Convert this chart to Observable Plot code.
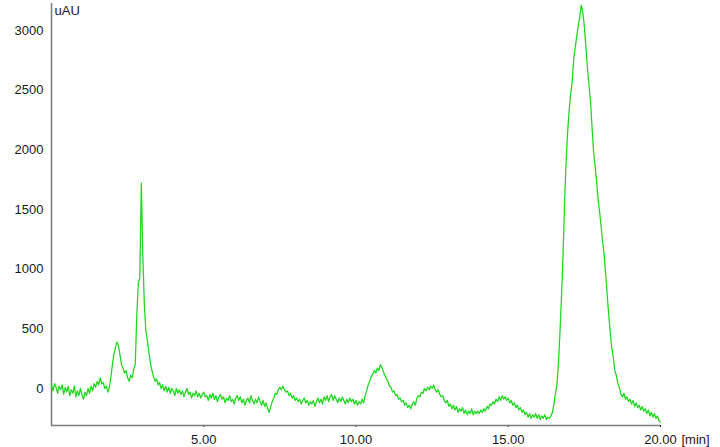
<!DOCTYPE html>
<html><head><meta charset="utf-8">
<script src="https://cdn.jsdelivr.net/npm/d3@7"></script>
<script src="https://cdn.jsdelivr.net/npm/@observablehq/plot@0.6"></script>
<style>html,body{margin:0;padding:0;background:#fff}</style>
</head><body><div id="chart"></div>
<script>
// Detector signal (uAU), one row per minute, sampled every 0.05 min
const startTime = 0;
const sampleStep = 0.05;
const signal = [
  30,-20,40,10,-40,20,-10,30,-50,10,-30,20,-60,-10,-40,20,-70,-20,-60,0,
  -50,-90,-30,-60,0,-40,20,-20,40,10,60,30,90,40,50,0,20,-30,10,90,
  200,290,340,390,360,280,200,170,130,150,90,60,110,90,160,200,600,880,930,1720,
  1100,700,480,400,300,210,150,100,60,80,30,50,0,30,-20,20,-30,10,-40,0,
  -20,-60,0,-40,-10,-50,-20,-70,-30,0,-50,-30,-80,-40,-60,-20,-70,-40,-80,-50,
  -30,-70,-60,-100,-50,-80,-40,-90,-60,-110,-70,-50,-90,-70,-120,-80,-100,-60,-110,-90,
  -130,-80,-60,-100,-70,-120,-90,-140,-100,-80,-120,-60,-100,-130,-90,-120,-70,-110,-140,-100,
  -150,-120,-170,-200,-150,-110,-80,-40,-50,-10,10,-10,20,-10,-30,-20,-60,-40,-80,-60,
  -100,-80,-110,-90,-130,-100,-80,-120,-100,-140,-110,-130,-100,-150,-110,-80,-120,-90,-130,-70,
  -100,-60,-110,-70,-50,-100,-60,-90,-120,-80,-110,-70,-100,-130,-90,-120,-80,-110,-90,-130,
  -100,-140,-110,-130,-90,-120,-60,-20,30,60,100,120,150,130,170,150,200,180,140,110,
  80,60,20,10,-30,-20,-60,-50,-90,-80,-110,-100,-140,-120,-160,-140,-170,-130,-110,-140,
  -80,-60,-70,-30,-40,0,-20,10,-10,20,0,30,-10,-30,-10,-50,-70,-60,-100,-120,
  -100,-150,-130,-170,-140,-180,-150,-200,-170,-190,-160,-210,-180,-220,-190,-210,-170,-220,-190,-210,
  -190,-210,-180,-200,-170,-190,-150,-170,-130,-140,-110,-130,-90,-110,-70,-100,-60,-90,-70,-100,
  -80,-120,-100,-140,-120,-160,-140,-180,-160,-200,-180,-220,-200,-240,-210,-250,-220,-240,-210,-250,
  -220,-260,-230,-250,-220,-260,-240,-250,-230,-200,-130,-40,30,220,480,780,1120,1560,1900,2150,
  2330,2470,2570,2760,2860,2950,3040,3120,3210,3150,3030,2860,2690,2550,2410,2200,1990,1870,1740,1590,
  1480,1360,1230,1120,960,780,620,470,340,260,150,110,40,10,-50,-70,-40,-90,-70,-110,
  -90,-130,-100,-150,-120,-160,-140,-180,-150,-190,-170,-210,-180,-230,-200,-240,-210,-250,-230,-270,
  -280
];
const xTicks = [5, 10, 15, 20];
const yTicks = [0, 500, 1000, 1500, 2000, 2500, 3000];
const xUnit = "[min]";
const yUnit = "uAU";

const data = signal.map((v, i) => ({t: startTime + i * sampleStep, v}));

const chart = Plot.plot({
  width: 720,
  height: 447,
  marginLeft: 51,
  marginRight: 60,
  marginTop: 3,
  marginBottom: 22,
  style: {fontFamily: "'Liberation Sans', Arial, sans-serif", fontSize: "13px", background: "#fff", color: "#1a1a1a"},
  x: {domain: [0, 20]},
  y: {domain: [-310, 3226]},
  marks: [
    Plot.axisY({ticks: yTicks, tickSize: 0, tickPadding: 8, tickFormat: d => String(d), label: null, fontSize: 13}),
    Plot.axisX({ticks: xTicks, tickSize: 2, tickPadding: 7, tickFormat: d => d.toFixed(2), label: null, fontSize: 13}),
    Plot.ruleX([0], {stroke: "#7a7a7a", strokeWidth: 1.5}),
    Plot.ruleY([-310], {stroke: "#7a7a7a", strokeWidth: 1.5}),
    Plot.line(data, {x: "t", y: "v", stroke: "#22d822", strokeWidth: 1.3}),
    Plot.text([yUnit], {text: d => d, frameAnchor: "top-left", textAnchor: "start", lineAnchor: "top", dx: 3, dy: 2, fontSize: 13}),
    Plot.text([xUnit], {text: d => d, x: 20, frameAnchor: "bottom", textAnchor: "start", lineAnchor: "top", dx: 21, dy: 9, fontSize: 13})
  ]
});
document.getElementById("chart").appendChild(chart);
</script>
</body></html>
